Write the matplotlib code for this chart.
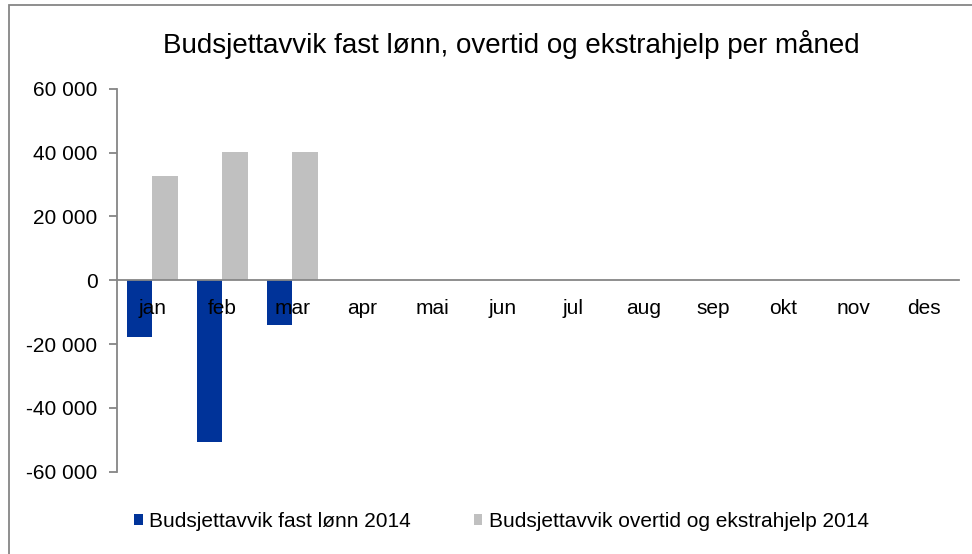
import matplotlib.pyplot as plt
import numpy as np
from matplotlib.ticker import FuncFormatter
from matplotlib.patches import Rectangle

# monthly budget deviations (NOK)
months = ['jan', 'feb', 'mar', 'apr', 'mai', 'jun', 'jul', 'aug', 'sep', 'okt', 'nov', 'des']
fast_lonn = [-17700, -50800, -13900, 0, 0, 0, 0, 0, 0, 0, 0, 0]
overtid = [32700, 40300, 40300, 0, 0, 0, 0, 0, 0, 0, 0, 0]
series_names = ['Budsjettavvik fast lønn 2014', 'Budsjettavvik overtid og ekstrahjelp 2014']

plt.rcParams['font.family'] = ['Liberation Sans', 'DejaVu Sans']

fig = plt.figure(figsize=(9.72, 5.54), dpi=100)
ax = fig.add_axes([0.1204, 0.1486, 0.8662, 0.6913])

# outer chart border
fig.patches.append(Rectangle((9 / 972, -0.1), 1.2, 1 - 5 / 554 + 0.1, transform=fig.transFigure,
                             fill=False, edgecolor='#868686', linewidth=1.3))

x = np.arange(len(months))
w = 0.365
ax.bar(x - w / 2, fast_lonn, w, color='#003399', label=series_names[0], zorder=2)
ax.bar(x + w / 2, overtid, w, color='#C0C0C0', label=series_names[1], zorder=2)

ax.set_xlim(-0.5, len(months) - 0.5)
ax.set_ylim(-60000, 60000)
ax.set_yticks(range(-60000, 60001, 20000))
ax.yaxis.set_major_formatter(FuncFormatter(lambda v, p: f'{int(v):,}'.replace(',', ' ')))

for s in ['top', 'right']:
    ax.spines[s].set_visible(False)
ax.spines['bottom'].set_position(('data', 0))
ax.spines['bottom'].set_color('#868686')
ax.spines['bottom'].set_zorder(3)
ax.spines['left'].set_color('#868686')
ax.spines['left'].set_linewidth(1.3)
ax.spines['bottom'].set_linewidth(1.3)

ax.set_xticks(x)
ax.set_xticklabels(months)
ax.tick_params(axis='x', length=0, pad=13.5, labelsize=15)
ax.tick_params(axis='y', length=6, width=1.3, color='#868686', labelsize=15, pad=8)
ax.xaxis.set_zorder(5)

fig.text(0.526, 0.92, 'Budsjettavvik fast lønn, overtid og ekstrahjelp per måned',
         ha='center', va='center', fontsize=20)

leg = fig.legend(loc='center', bbox_to_anchor=(0.516, 0.059), ncol=2, frameon=False,
                 fontsize=15, handlelength=0.4, handleheight=0.4, handletextpad=0.33,
                 columnspacing=3.0)

plt.savefig('out.png', dpi=100)
